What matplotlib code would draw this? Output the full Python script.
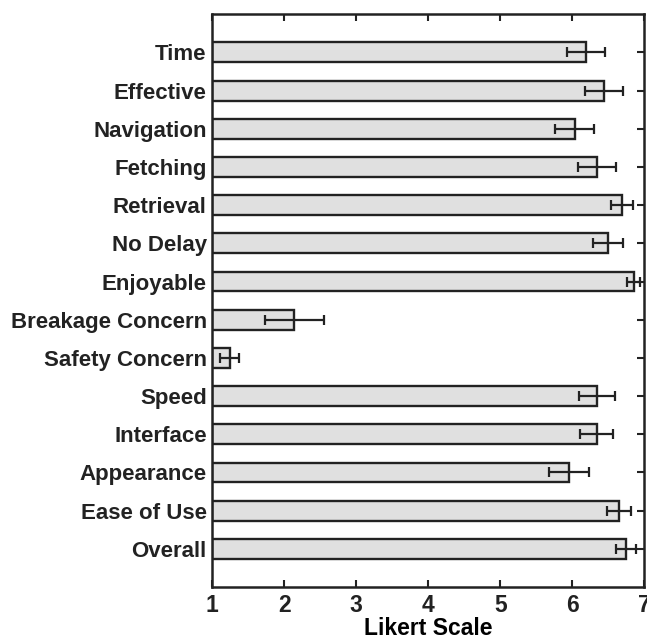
import numpy as np
import matplotlib.pyplot as plt

plt.rcParams['font.family'] = ['Liberation Sans', 'DejaVu Sans']

labels = ["Time", "Effective", "Navigation", "Fetching", "Retrieval", "No Delay",
          "Enjoyable", "Breakage Concern", "Safety Concern", "Speed", "Interface",
          "Appearance", "Ease of Use", "Overall"]
means = [6.19, 6.44, 6.03, 6.34, 6.69, 6.49, 6.85, 2.14, 1.24, 6.34, 6.34, 5.95, 6.65, 6.75]
errs = [0.26, 0.26, 0.27, 0.26, 0.15, 0.21, 0.09, 0.41, 0.13, 0.245, 0.23, 0.28, 0.165, 0.14]
xticks = [1, 2, 3, 4, 5, 6, 7]

fig = plt.figure(figsize=(6.47, 6.41), dpi=100)
ax = fig.add_axes([0.328, 0.0842, 0.668, 0.8936])

ypos = np.arange(1, len(labels) + 1)
widths = [m - 1 for m in means]
ax.barh(ypos, widths, left=1, height=0.52, color='#e0e0e0', edgecolor='#222222',
        linewidth=1.7, zorder=2)
ax.errorbar(means, ypos, xerr=errs, fmt='none', ecolor='#222222', elinewidth=1.6,
            capsize=3.5, capthick=1.6, zorder=3)

ax.set_xlim(1, 7)
ax.set_ylim(15, 0)
ax.set_xticks(xticks)
ax.set_yticks(ypos)
ax.set_yticklabels(labels, fontsize=16, fontweight='bold')
for t in ax.get_xticklabels():
    t.set_fontsize(16.5)
    t.set_fontweight('bold')
ax.set_xlabel("Likert Scale", fontsize=16.5, fontweight='bold', labelpad=0)

ax.tick_params(axis='x', direction='in', top=True, bottom=True, length=5, width=1.5,
               colors='#222222', labelcolor='#222222', pad=5)
ax.tick_params(axis='y', direction='in', left=False, right=True, length=5, width=1.5,
               colors='#222222', labelcolor='#222222', pad=4)
for s in ax.spines.values():
    s.set_linewidth(1.8)
    s.set_color('#222222')

fig.savefig("out.png", dpi=100)
